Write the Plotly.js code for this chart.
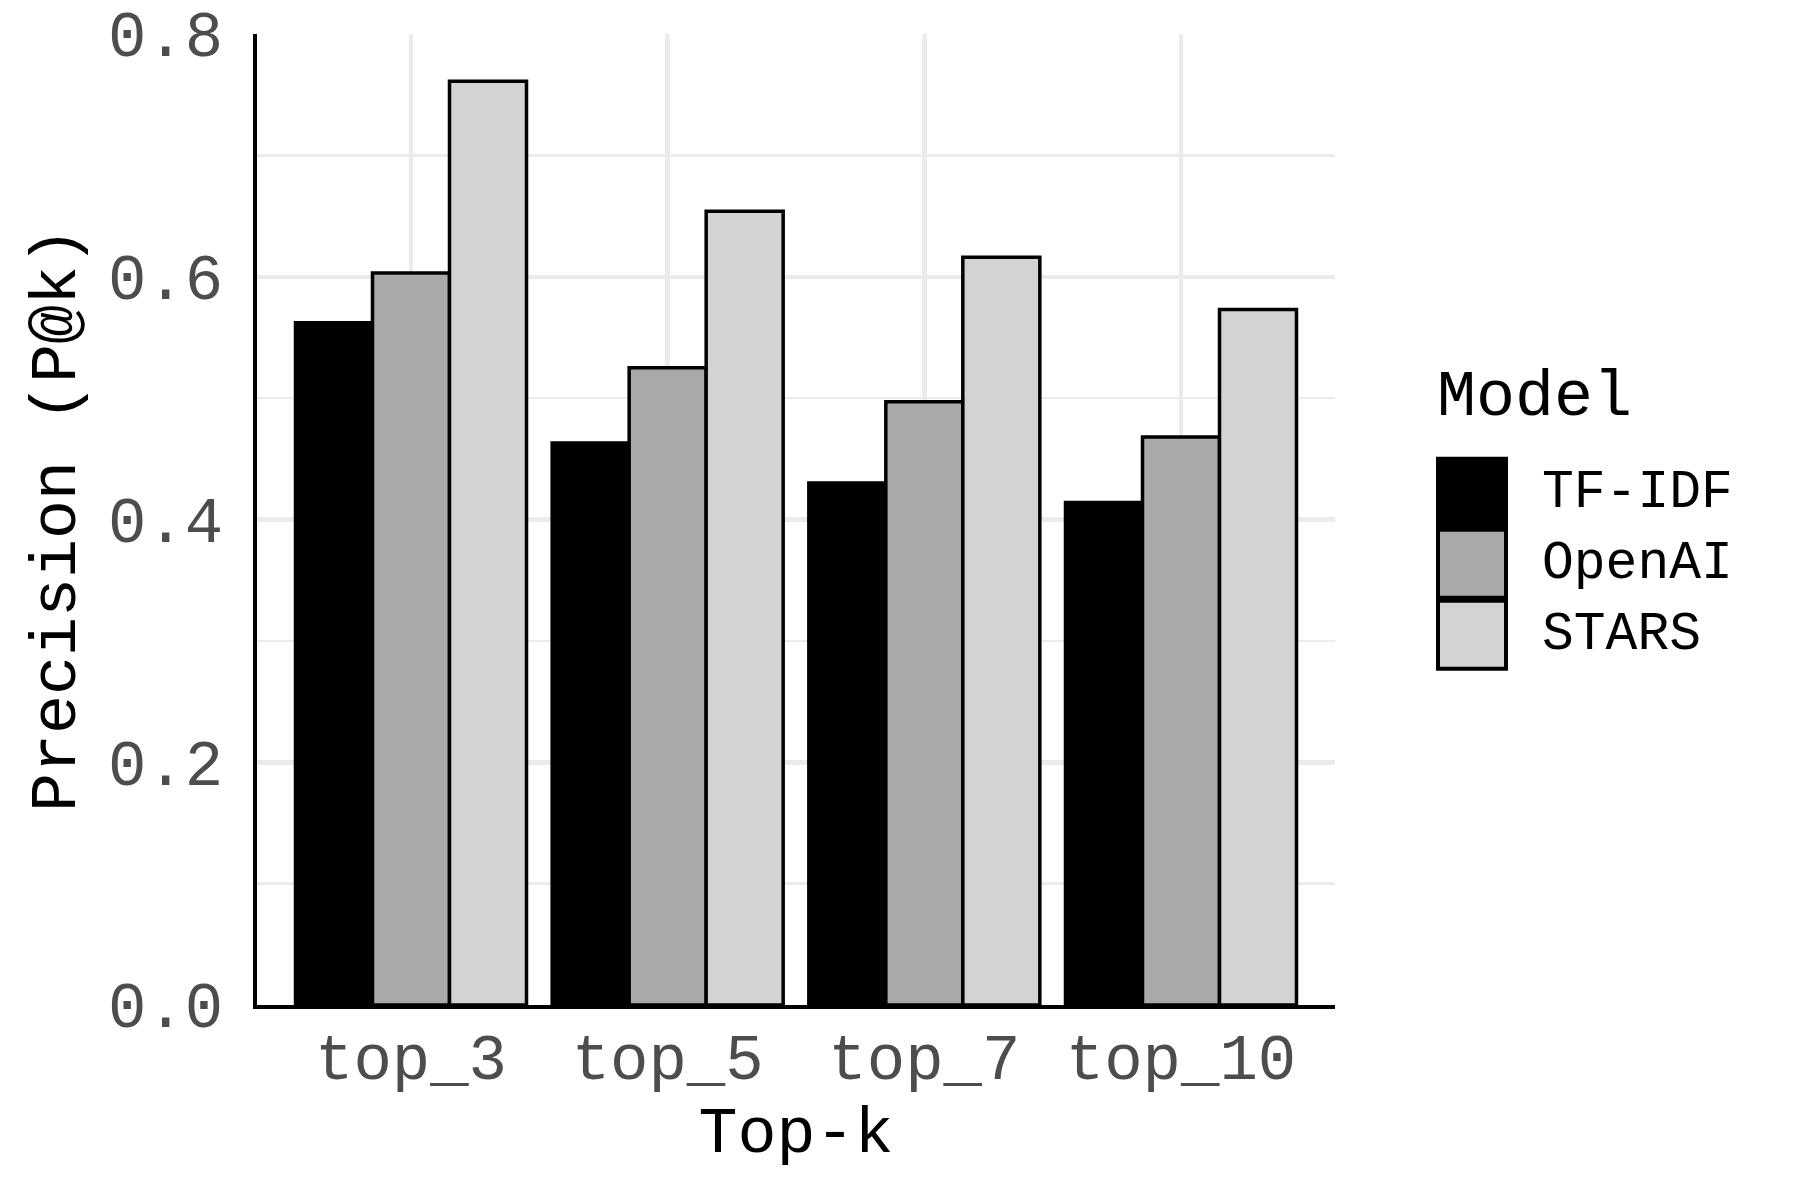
<!DOCTYPE html>
<html>
<head>
<meta charset="utf-8">
<script src="https://cdn.plot.ly/plotly-3.0.1.min.js"></script>
<style>
  html, body { margin: 0; padding: 0; background: #fff; }
  #chart { width: 1800px; height: 1200px; }
</style>
</head>
<body>
<div id="chart"></div>
<script>
// categories and series
var topK = ["top_3", "top_5", "top_7", "top_10"];
var models = ["TF-IDF", "OpenAI", "STARS"];
var tfidf = [0.562, 0.463, 0.430, 0.414];
var openai = [0.603, 0.525, 0.497, 0.468];
var stars = [0.761, 0.654, 0.616, 0.573];
var fills = ["#000000", "#A9A9A9", "#D3D3D3"];

var FONT = "Liberation Mono, DejaVu Sans Mono, monospace";

// plot area in pixels
var L = 257, R = 1335, T = 34, B = 1005.5;
function px(x) { return (x - L) / (R - L); }
function py(y) { return (B - y) / (B - T); }

var series = [tfidf, openai, stars];
var traces = series.map(function (vals, i) {
    return {
        type: "bar",
        name: models[i],
        x: topK,
        y: vals,
        marker: {color: fills[i], line: {color: "#000000", width: 3.5}},
        showlegend: false,
        hoverinfo: "x+y+name"
    };
});

// hand-drawn legend (plotly keys are too small)
var shapes = [];
var annotations = [{
    xref: "paper", yref: "paper",
    x: px(1435), y: py(398),
    xanchor: "left", yanchor: "middle",
    text: "Model", showarrow: false,
    font: {family: FONT, size: 65, color: "#000000"}
}];
models.forEach(function (m, i) {
    var top = 459 + i * 71;
    shapes.push({
        type: "rect", xref: "paper", yref: "paper",
        x0: px(1438), x1: px(1506), y0: py(top + 68), y1: py(top),
        fillcolor: fills[i], line: {color: "#000000", width: 4}
    });
    annotations.push({
        xref: "paper", yref: "paper",
        x: px(1540), y: py(top + 34),
        xanchor: "left", yanchor: "middle",
        text: m, showarrow: false,
        font: {family: FONT, size: 53, color: "#000000"}
    });
});

var layout = {
    width: 1800,
    height: 1200,
    paper_bgcolor: "#ffffff",
    plot_bgcolor: "#ffffff",
    margin: {l: L, r: 1800 - R, t: T, b: 1200 - B},
    barmode: "group",
    bargap: 0.1,
    bargroupgap: 0,
    font: {family: FONT},
    xaxis: {
        type: "category",
        range: [-0.6, 3.6],
        showgrid: true,
        gridcolor: "#EBEBEB",
        gridwidth: 4.5,
        showline: true,
        linecolor: "#000000",
        linewidth: 4,
        ticks: "",
        ticklabelstandoff: -7,
        tickfont: {family: FONT, size: 64, color: "#4D4D4D"},
        title: {text: "Top-k", font: {family: FONT, size: 65, color: "#000000"}, standoff: 9},
        automargin: false,
        zeroline: false
    },
    yaxis: {
        range: [0, 0.8],
        tickvals: [0, 0.2, 0.4, 0.6, 0.8],
        tickformat: ".1f",
        showgrid: true,
        gridcolor: "#EBEBEB",
        gridwidth: 4.5,
        minor: {dtick: 0.1, showgrid: true, gridcolor: "#EBEBEB", gridwidth: 2.5},
        showline: true,
        linecolor: "#000000",
        linewidth: 4,
        ticks: "",
        ticklabelstandoff: 17,
        tickfont: {family: FONT, size: 64, color: "#4D4D4D"},
        title: {text: "Precision (P@k)", font: {family: FONT, size: 65, color: "#000000"}, standoff: 12},
        automargin: false,
        zeroline: false
    },
    shapes: shapes,
    annotations: annotations
};

Plotly.newPlot("chart", traces, layout, {displayModeBar: false, staticPlot: true});
</script>
</body>
</html>
